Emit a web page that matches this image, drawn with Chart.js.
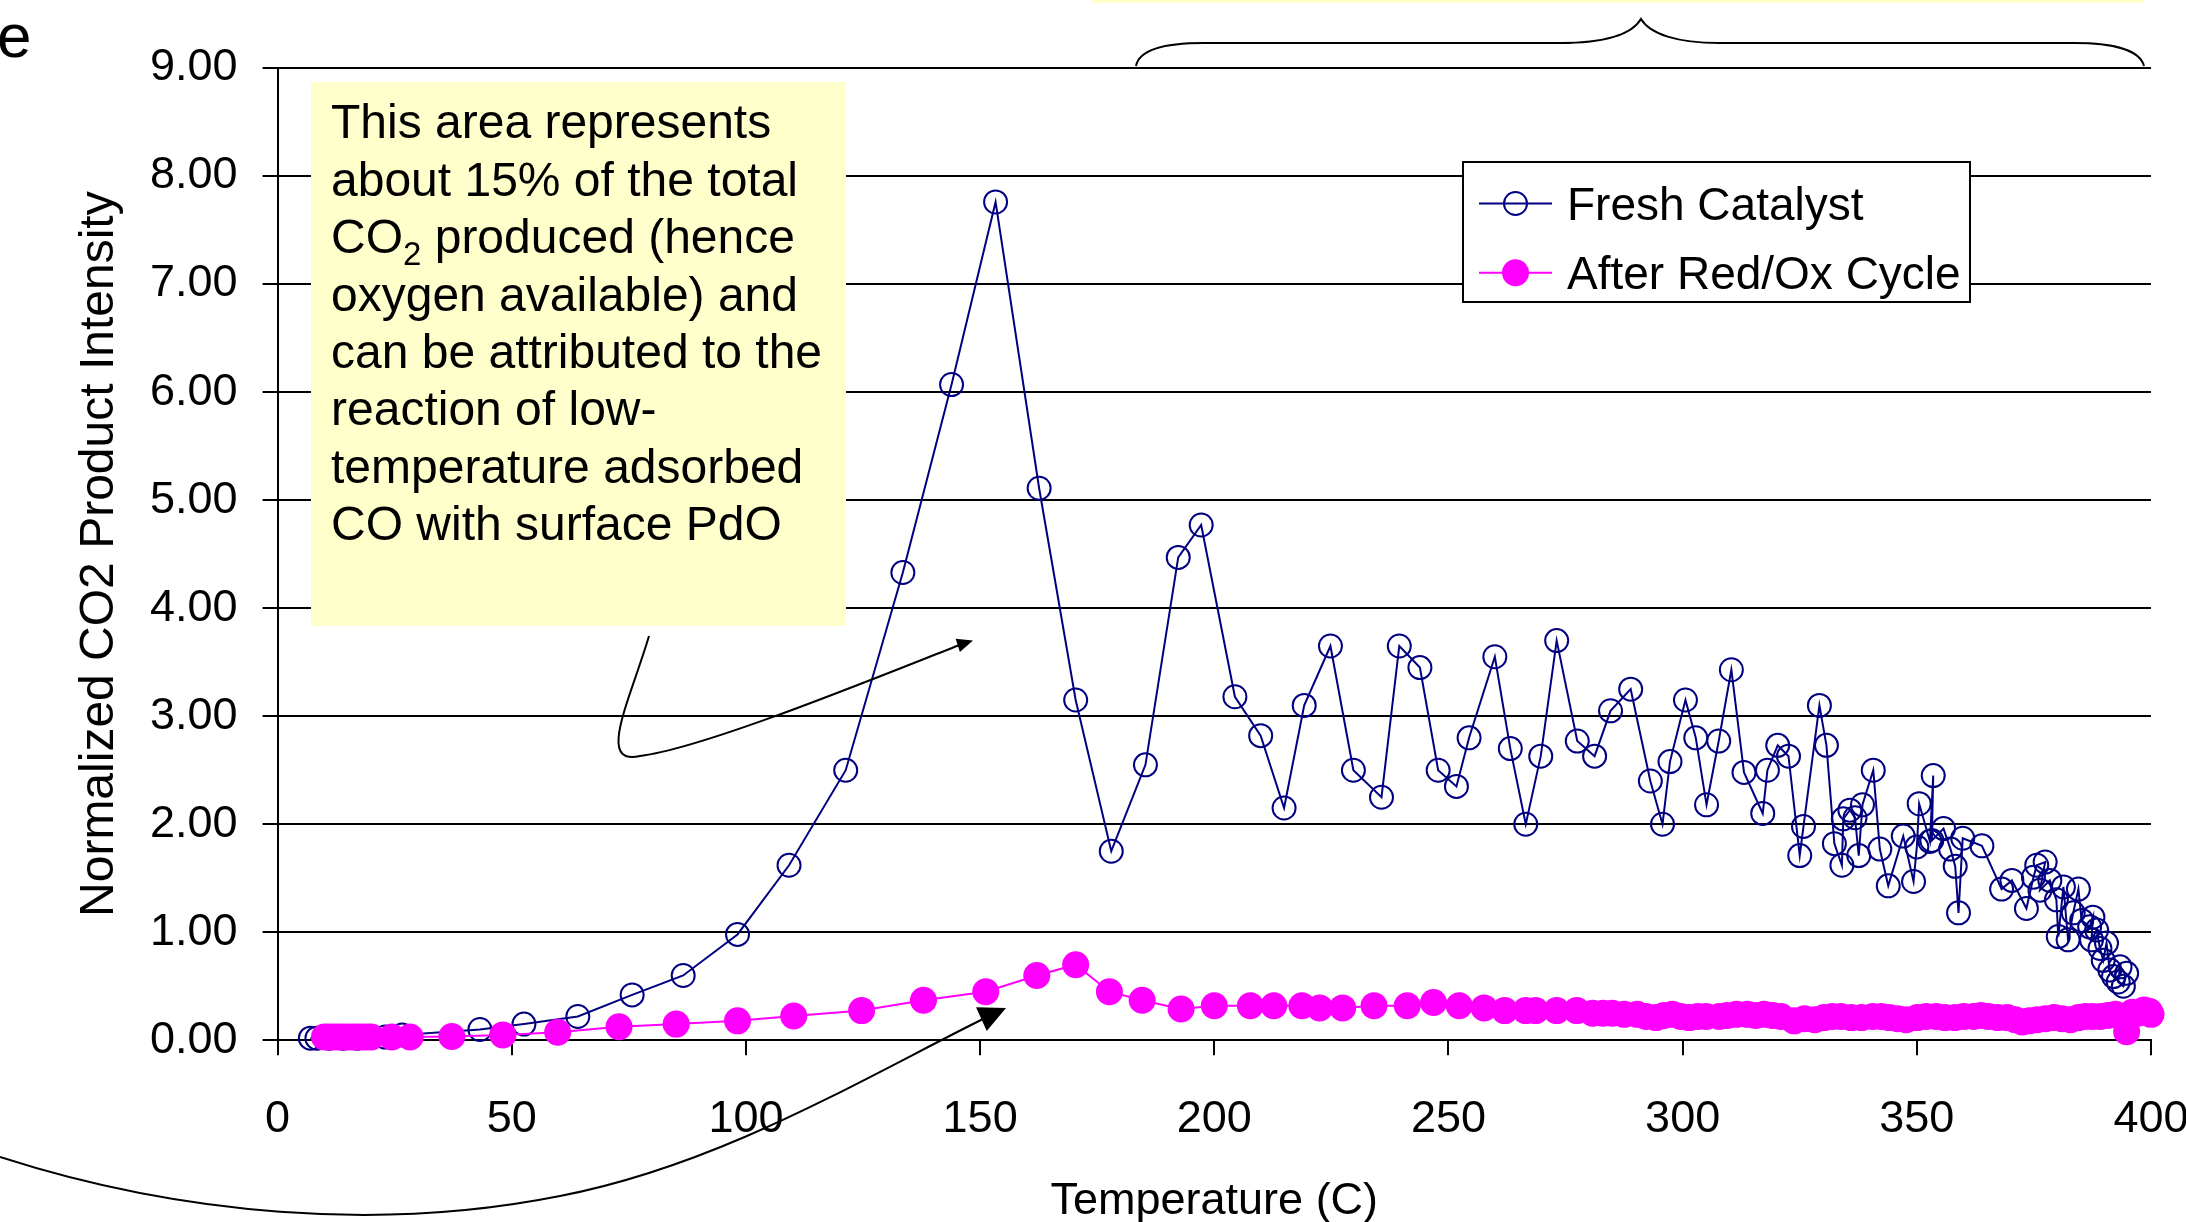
<!DOCTYPE html>
<html><head><meta charset="utf-8">
<script src="https://cdn.jsdelivr.net/npm/chart.js@4.4.0/dist/chart.umd.min.js"></script>
<style>html,body{margin:0;padding:0;background:#fff;overflow:hidden}canvas{display:block}</style>
</head><body>
<canvas id="c" width="2186" height="1222"></canvas>
<script>
// ---------------- data ----------------
const freshTemp = [7.0,8.4,11,14,17,20,23,26.6,43.2,52.6,64.1,75.7,86.6,98.2,109.2,
  121.3,133.5,143.9,153.3,162.6,170.4,178.0,185.3,192.3,197.2,
  204.4,209.9,214.9,219.2,224.8,229.7,235.7,239.5,243.9,247.8,
  251.7,254.4,259.9,263.2,266.5,269.7,273.1,277.5,281.2,284.6,
  288.9,293.1,295.7,297.3,300.6,302.8,305.1,307.7,310.4,313.1,
  317.1,318.1,320.3,322.6,325.0,325.8,329.2,330.7,332.4,334.0,
  334.3,335.7,336.8,337.6,338.4,340.7,342.1,343.9,347.1,349.3,
  350.0,350.5,352.8,353.5,353.2,355.7,357.2,358.2,358.9,359.8,
  363.9,368.1,370.3,373.4,374.9,375.6,377.4,376.3,378.4,379.8,
  380.2,381.3,382.3,383.4,384.5,385.2,386.9,387.6,387.3,388.4,
  389.1,389.8,390.5,391.2,392.0,393.4,393.0,394.1,394.8];
const freshValue = [0.02,0.02,0.02,0.02,0.02,0.03,0.03,0.05,0.10,0.15,0.22,0.42,0.60,0.98,1.62,
  2.50,4.33,6.07,7.76,5.11,3.15,1.75,2.55,4.47,4.77,
  3.18,2.82,2.15,3.10,3.65,2.50,2.25,3.65,3.45,2.50,
  2.35,2.80,3.55,2.70,2.00,2.63,3.70,2.77,2.63,3.05,
  3.25,2.40,2.00,2.58,3.15,2.80,2.18,2.77,3.43,2.48,
  2.10,2.50,2.73,2.63,1.71,1.98,3.10,2.73,1.82,1.62,
  2.05,2.13,2.06,1.71,2.18,2.50,1.77,1.43,1.89,1.47,
  1.79,2.19,1.84,2.45,1.85,1.96,1.77,1.61,1.18,1.87,
  1.80,1.40,1.48,1.22,1.51,1.62,1.65,1.39,1.48,1.30,
  0.96,1.42,0.93,1.18,1.40,1.11,1.05,1.14,0.93,1.02,
  0.85,0.74,0.90,0.65,0.59,0.68,0.54,0.50,0.62];

const redoxTemp = [10,11,12,13,14,15,16,17,18,19,20,24.4,28.3,37.2,48.1,59.8,72.9,85.1,98.2,
  110.2,124.7,137.9,151.2,162.1,170.4,177.6,184.6,192.9,200.0,207.7,212.7,218.7,222.5,227.4,
  234.1,241.2,246.8,252.3,257.6,262.0,266.5,268.6,273.1,277.4,280.8,
  283.0,285.0,287.5,290.3,292.2,294.3,296.0,297.8,299.6,301.4,303.2,305.0,307.8,309.5,311.5,
  313.8,315.6,317.4,319.2,321.0,323.8,326.0,328.2,330.2,332.0,333.8,336.0,338.2,340.6,342.4,
  344.1,345.9,347.7,350.1,352.0,354.1,356.0,358.1,360.0,362.1,363.7,365.3,367.3,369.3,371.0,
  372.5,374.0,375.7,377.5,379.3,381.0,382.8,384.5,386.0,387.5,389.2,390.8,392.4,394.8,396.0,
  397.2,398.5,399.6,400.0];
const redoxValue = [0.03,0.03,0.03,0.03,0.03,0.03,0.03,0.03,0.03,0.03,0.03,0.03,0.03,0.035,0.05,0.075,0.125,0.15,0.18,
  0.225,0.275,0.37,0.45,0.60,0.70,0.45,0.37,0.29,0.32,0.32,0.32,0.32,0.30,0.30,
  0.32,0.32,0.35,0.32,0.30,0.275,0.275,0.275,0.275,0.275,0.25,
  0.25,0.25,0.24,0.24,0.22,0.21,0.23,0.24,0.22,0.21,0.22,0.22,0.22,0.23,0.24,
  0.24,0.23,0.24,0.23,0.22,0.18,0.20,0.19,0.21,0.22,0.22,0.21,0.21,0.22,0.22,
  0.21,0.20,0.19,0.21,0.22,0.22,0.21,0.21,0.22,0.22,0.23,0.22,0.21,0.21,0.19,
  0.17,0.18,0.19,0.20,0.21,0.20,0.19,0.21,0.22,0.22,0.22,0.23,0.24,0.08,0.26,
  0.25,0.28,0.27,0.24];

const seriesNames = ['Fresh Catalyst','After Red/Ox Cycle'];
const xTickValues = [0,50,100,150,200,250,300,350,400];
const yTickLabels = ['0.00','1.00','2.00','3.00','4.00','5.00','6.00','7.00','8.00','9.00'];
const xTitle = 'Temperature (C)';
const yTitle = 'Normalized CO2 Product Intensity';
const noteLines = ['This area represents','about 15% of the total','CO|2| produced (hence','oxygen available) and',
  'can be attributed to the','reaction of low-','temperature adsorbed','CO with surface PdO'];

// ---------------- chart ----------------
const FONT = "'Liberation Sans', Arial, Helvetica, sans-serif";
const freshPts = freshTemp.map((t,i)=>({x:t,y:freshValue[i]}));
const redoxPts = redoxTemp.map((t,i)=>({x:t,y:redoxValue[i]}));

function arrowHead(ctx, tx, ty, ang, len, half){
  ctx.beginPath();
  ctx.moveTo(tx,ty);
  ctx.lineTo(tx - len*Math.cos(ang) + half*Math.sin(ang), ty - len*Math.sin(ang) - half*Math.cos(ang));
  ctx.lineTo(tx - len*Math.cos(ang) - half*Math.sin(ang), ty - len*Math.sin(ang) + half*Math.cos(ang));
  ctx.closePath(); ctx.fill();
}

const overlay = {
  id:'overlay',
  afterDraw(chart){
    const ctx = chart.ctx;
    ctx.save();
    ctx.fillStyle='#000'; ctx.textBaseline='alphabetic'; ctx.textAlign='left';
    ctx.font = '62px '+FONT;
    ctx.fillText('e', -3, 57);
    ctx.fillStyle='#FFFFCC';
    ctx.fillRect(1091,0,1053,3);
    ctx.strokeStyle='#000'; ctx.lineWidth=2;
    ctx.beginPath();
    ctx.moveTo(1136,66);
    ctx.bezierCurveTo(1139,50,1165,43,1204,43);
    ctx.lineTo(1560,43);
    ctx.bezierCurveTo(1606,43,1632,34,1641,19);
    ctx.bezierCurveTo(1650,34,1677,43,1719,43);
    ctx.lineTo(2074,43);
    ctx.bezierCurveTo(2113,43,2140,50,2144,66);
    ctx.stroke();
    ctx.fillStyle='#FFFFCC';
    ctx.fillRect(311,82,535,544);
    ctx.fillStyle='#000';
    noteLines.forEach((ln,i)=>{
      const y = 138.4 + i*57.4;
      const parts = ln.split('|');
      let x = 331;
      parts.forEach((p,k)=>{
        if (k%2===1){ ctx.font='33px '+FONT; ctx.fillText(p,x,y+12); x+=ctx.measureText(p).width; }
        else { ctx.font='48px '+FONT; ctx.fillText(p,x,y); x+=ctx.measureText(p).width; }
      });
    });
    ctx.strokeStyle='#000'; ctx.lineWidth=2;
    ctx.beginPath();
    ctx.moveTo(649,636);
    ctx.bezierCurveTo(630,700,596,766,640,756);
    ctx.bezierCurveTo(705,748,880,676,962,644);
    ctx.stroke();
    arrowHead(ctx,973,640.5,Math.atan2(-4.3,13.5),16,7);
    ctx.beginPath();
    ctx.moveTo(0,1157);
    ctx.bezierCurveTo(180,1215,380,1232,560,1196);
    ctx.bezierCurveTo(720,1165,860,1080,985,1018);
    ctx.stroke();
    arrowHead(ctx,1006,1008,Math.atan2(-11,24.3),27,13);
    const ds = chart.data.datasets;
    ctx.fillStyle='#fff'; ctx.fillRect(1463,162,507,140);
    ctx.strokeStyle='#000'; ctx.lineWidth=2; ctx.strokeRect(1463,162,507,140);
    const rows=[{y:203.5,b:219.5},{y:272.8,b:288.6}];
    ds.forEach((d,i)=>{
      const r=rows[i];
      ctx.strokeStyle=d.borderColor; ctx.lineWidth=d.borderWidth;
      ctx.beginPath(); ctx.moveTo(1479,r.y); ctx.lineTo(1552,r.y); ctx.stroke();
      ctx.beginPath(); ctx.arc(1515.5,r.y,d.pointRadius,0,Math.PI*2);
      if (d.pointBorderWidth>0){ ctx.lineWidth=d.pointBorderWidth; ctx.strokeStyle=d.pointBorderColor; ctx.stroke(); }
      else { ctx.fillStyle=d.pointBackgroundColor; ctx.fill(); }
      ctx.fillStyle='#000'; ctx.font='46px '+FONT; ctx.textAlign='left';
      ctx.fillText(d.label,1567,r.b);
    });
    ctx.restore();
  }
};

new Chart(document.getElementById('c'), {
  type:'scatter',
  data:{datasets:[
    {label:seriesNames[0], data:freshPts, showLine:true, borderColor:'#000080', borderWidth:2,
     pointRadius:11.5, pointBorderWidth:2, pointBackgroundColor:'rgba(0,0,0,0)', pointBorderColor:'#000080',
     order:2, clip:false, tension:0},
    {label:seriesNames[1], data:redoxPts, showLine:true, borderColor:'#FF00FF', borderWidth:2,
     pointRadius:13.5, pointBorderWidth:0, pointBackgroundColor:'#FF00FF', pointBorderColor:'#FF00FF',
     order:1, clip:false, tension:0}
  ]},
  options:{
    responsive:false, animation:false, devicePixelRatio:1, events:[],
    layout:{padding:{left:0,top:68,right:35,bottom:0}},
    plugins:{legend:{display:false},tooltip:{enabled:false}},
    scales:{
      x:{type:'linear',min:0,max:400,
        afterBuildTicks(s){ s.ticks = xTickValues.map(v=>({value:v})); },
        ticks:{color:'#000',font:{family:FONT,size:45},padding:37,maxRotation:0,autoSkip:false},
        grid:{drawOnChartArea:false,drawTicks:true,tickLength:15,color:'#000',lineWidth:2},
        border:{display:true,color:'#000',width:2},
        title:{display:true,text:xTitle,color:'#000',font:{family:FONT,size:45,lineHeight:1},padding:{top:0,bottom:-2}},
        afterFit(s){ s.height=181.7; s.paddingLeft=0; s.paddingRight=0; }
      },
      y:{type:'linear',min:0,max:9,
        afterBuildTicks(s){ s.ticks = yTickLabels.map((l,i)=>({value:i})); },
        ticks:{color:'#000',font:{family:FONT,size:45},padding:25,callback:(v,i)=>yTickLabels[i]},
        grid:{color:'#000',lineWidth:2,tickLength:15,drawTicks:true},
        border:{display:true,color:'#000',width:2},
        title:{display:true,text:yTitle,color:'#000',font:{family:FONT,size:48},padding:{top:71,bottom:0}},
        afterFit(s){ s.width=277.6; s.paddingTop=0; s.paddingBottom=0; }
      }
    }
  },
  plugins:[overlay]
});
</script>
</body></html>
